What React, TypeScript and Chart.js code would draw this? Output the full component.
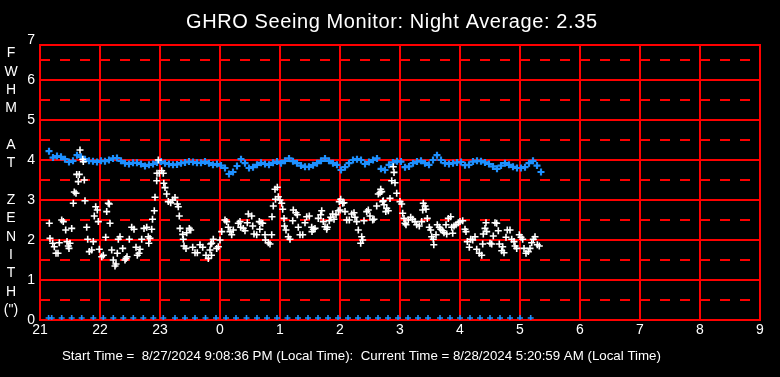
import React, { useEffect, useRef } from 'react';
import { Chart, registerables } from 'chart.js';

Chart.register(...registerables);

const FONT = '"Liberation Sans", Arial, Helvetica, sans-serif';

const titleText = 'GHRO Seeing Monitor: Night Average: 2.35';
const footerText = 'Start Time =  8/27/2024 9:08:36 PM (Local Time):  Current Time = 8/28/2024 5:20:59 AM (Local Time)';
const yAxisLetters = ['F', 'W', 'H', 'M', '', 'A', 'T', '', 'Z', 'E', 'N', 'I', 'T', 'H', '(")'];

// hour ticks (labels shown modulo 24)
const xTickHours = [21, 22, 23, 24, 25, 26, 27, 28, 29, 30, 31, 32, 33];
const yTickValues = [0, 1, 2, 3, 4, 5, 6, 7];
const solidLevels = [0, 1, 2, 3, 4, 5, 6];
const dashedLevels = [0.5, 1.5, 2.5, 3.5, 4.5, 5.5, 6.5];
const frameTopLevel = 6.875;

// FWHM seeing samples: minutes after 21:00 and value (arcsec)
const seeingMinutes = [
  9.3, 10, 12.7, 14.3, 16, 18, 19.3, 21.7, 23.3, 25.7,
  27, 28.3, 29, 30, 31.7, 33.3, 34.3, 36, 36.7, 38.3,
  39.3, 40, 42.7, 43.3, 44.3, 45, 46.7, 47.7, 49.3, 51.7,
  53.3, 54.3, 55.7, 57.3, 58.3, 59.3, 61.7, 63.3, 65.7, 66.7,
  68.3, 69.3, 70, 71.7, 73.3, 75, 76, 77.3, 78.3, 80,
  82.7, 85, 86, 87, 89.3, 91.7, 94, 96, 97.3, 99,
  100, 101.7, 104, 106.7, 108.3, 108.8, 110, 111.7, 112.5, 114.3,
  115, 116.7, 117, 118.3, 119.3, 121.7, 123.3, 123.8, 125, 126.7,
  128.3, 130.7, 132.7, 135, 137.3, 138.3, 139.3, 140, 142.7, 143.3,
  144, 146, 146.7, 149.3, 150.7, 152.7, 155, 157.3, 160, 162.7,
  166, 168.3, 170, 170.7, 171.5, 171.7, 173.3, 176.7, 178.3, 180,
  181.7, 185, 186.7, 188.3, 190, 191.7, 193.3, 198.3, 200, 200.7,
  203.3, 205, 207.3, 208.3, 211.7, 212.7, 214, 216.7, 219.3, 219.8,
  221, 222.7, 225, 225.5, 228.3, 230, 231.7, 232, 233.3, 235,
  235.5, 237.3, 238.3, 240, 241.7, 242.7, 244, 244.5, 246, 248.3,
  250, 252.7, 253.3, 256, 257.3, 258.3, 260, 262.7, 265, 266.7,
  269.3, 271.7, 272, 273.3, 275, 278.3, 280.7, 281.7, 283.3, 285,
  286.7, 287.3, 289.3, 290.7, 292.7, 294, 296, 298.3, 299.3, 300,
  300.7, 302.7, 304, 305, 306.7, 309.3, 311.7, 314, 315, 316.7,
  318.3, 320.7, 321.7, 322.7, 324, 326.7, 328.3, 330, 332.7, 334,
  336.7, 338.3, 340, 340.7, 341.7, 342.7, 343.3, 344, 345.8, 346.7,
  348.3, 350, 351.7, 353.3, 354, 355, 356.7, 360, 361.7, 362.7,
  364, 365, 366, 368.3, 370.7, 372.7, 375, 376.7, 379.3, 381.7,
  382.7, 383.3, 385, 386, 387.3, 389.3, 390.7, 391.7, 393.3, 393.8,
  396, 397.3, 399.3, 400.7, 402.7, 404, 406, 406.7, 408.3, 410.7,
  411.7, 412.7, 414, 416, 418.3, 420, 422.7, 425, 426, 427.3,
  429.3, 430.7, 432.7, 435, 436.7, 439.3, 441.7, 442.7, 443.3, 445,
  446, 446.7, 450, 451.7, 453.3, 455, 456.7, 458.3, 459.3, 461.7,
  462.7, 464, 466, 467.3, 470, 471.7, 474, 475, 476.7, 479.3,
  481, 482.7, 484, 486, 488.3, 490, 491.7, 493.3, 495, 497.3,
  499.3,
];
const seeingValues = [
  2.42, 2.04, 1.92, 1.83, 1.67, 1.67, 1.93, 2.5, 2.46, 2.25,
  1.96, 1.85, 1.79, 1.92, 2.29, 2.92, 3.2, 3.17, 3.64, 3.46,
  3.64, 4.25, 4.02, 3.96, 3.5, 2.98, 2.32, 2.02, 1.71, 1.75,
  1.96, 2.6, 2.83, 2.75, 2.46, 1.77, 1.58, 1.62, 2.07, 2.71,
  2.92, 2.9, 2.42, 1.75, 1.5, 1.35, 1.4, 1.67, 2.02, 2.08,
  1.79, 1.5, 1.54, 1.58, 2.02, 2.32, 2.27, 1.82, 1.62, 1.67,
  1.77, 2.02, 2.29, 2.32, 2.08, 1.92, 2.04, 2.27, 2.52, 2.73,
  3.07, 3.48, 3.67, 4.0, 3.67, 3.73, 3.67, 3.42, 3.31, 3.15,
  2.96, 2.93, 3.0, 3.06, 2.9, 2.83, 2.6, 2.29, 2.14, 2.02,
  1.85, 1.79, 2.18, 2.29, 2.25, 1.82, 1.68, 1.68, 1.88, 1.82,
  1.62, 1.54, 1.75, 1.9, 1.62, 1.92, 2.02, 1.79, 1.83, 2.0,
  2.21, 2.5, 2.46, 2.32, 2.21, 2.13, 2.25, 2.42, 2.46, 2.32,
  2.29, 2.23, 2.43, 2.65, 2.6, 2.35, 2.15, 2.13, 2.46, 2.27,
  2.43, 2.42, 2.13, 2.0, 1.93, 1.9, 2.13, 2.58, 2.85, 3.27,
  3.02, 3.32, 3.08, 3.0, 2.92, 2.77, 2.54, 2.35, 2.25, 2.08,
  2.02, 2.48, 2.75, 2.68, 2.63, 2.32, 2.13, 2.13, 2.43, 2.58,
  2.6, 2.32, 2.21, 2.27, 2.29, 2.54, 2.63, 2.73, 2.46, 2.33,
  2.27, 2.32, 2.48, 2.57, 2.65, 2.52, 2.63, 2.73, 2.96, 2.75,
  3.02, 2.92, 2.93, 2.71, 2.5, 2.5, 2.65, 2.68, 2.57, 2.46,
  2.25, 1.92, 2.08, 2.0, 2.48, 2.71, 2.75, 2.6, 2.5, 2.52,
  2.85, 3.15, 3.18, 3.27, 3.21, 2.96, 2.98, 2.88, 2.71, 2.79,
  2.73, 3.04, 3.48, 3.83, 3.69, 3.43, 3.17, 2.96, 2.9, 2.67,
  2.54, 2.42, 2.38, 2.5, 2.57, 2.52, 2.46, 2.38, 2.35, 2.46,
  2.75, 2.92, 2.85, 2.77, 2.54, 2.32, 2.25, 2.08, 2.02, 1.88,
  2.13, 2.38, 2.32, 2.27, 2.23, 2.18, 2.38, 2.15, 2.54, 2.58,
  2.32, 2.17, 2.35, 2.38, 2.43, 2.46, 2.48, 2.27, 2.21, 1.96,
  1.82, 2.02, 2.0, 2.08, 1.77, 1.67, 1.62, 1.9, 2.15, 2.29,
  2.43, 2.21, 1.92, 1.9, 2.1, 2.43, 2.42, 2.23, 1.9, 1.73,
  1.83, 1.68, 2.07, 2.25, 2.25, 2.02, 1.96, 1.85, 1.79, 2.13,
  2.07, 2.02, 1.79, 1.67, 1.71, 1.79, 1.93, 2.02, 2.08, 1.88,
  1.85,
];

// blue trace near 4: sampled every 4 minutes starting 21:09
const traceStartMinute = 9;
const traceStepMinutes = 4;
const traceValues = [
  4.22, 4.06, 4.10, 4.08, 4.02, 3.95, 3.98, 4.12, 4.08, 4.02,
  3.98, 3.97, 3.95, 3.98, 3.97, 4.00, 4.04, 4.05, 3.98, 3.92,
  3.90, 3.93, 3.93, 3.90, 3.85, 3.88, 3.90, 3.94, 3.96, 3.92,
  3.90, 3.88, 3.89, 3.92, 3.94, 3.96, 3.95, 3.93, 3.93, 3.96,
  3.92, 3.88, 3.90, 3.86, 3.80, 3.65, 3.70, 3.85, 4.02, 3.92,
  3.80, 3.82, 3.88, 3.93, 3.90, 3.88, 3.93, 3.96, 3.92, 3.98,
  4.04, 3.97, 3.92, 3.86, 3.83, 3.83, 3.87, 3.92, 3.98, 4.04,
  3.98, 3.92, 3.88, 3.75, 3.82, 3.92, 4.00, 4.02, 4.00, 3.90,
  3.95, 4.00, 4.04, 3.78, 3.75, 3.88, 3.94, 3.97, 3.96, 3.82,
  3.84, 3.92, 3.96, 3.98, 3.92, 3.88, 4.00, 4.12, 4.00, 3.92,
  3.90, 3.92, 3.94, 3.95, 3.87, 3.88, 3.96, 3.98, 3.97, 3.94,
  3.90, 3.84, 3.78, 3.86, 3.92, 3.88, 3.83, 3.80, 3.80, 3.82,
  3.92, 3.98, 3.86, 3.70,
];

// blue markers along the bottom
const markerMinutes = [
  8.6, 11.7, 21.7, 31.7, 41.7, 53.3, 63.3, 73.3, 83.3, 93.3,
  103.3, 113.3, 123.3, 135, 145, 155, 165.5, 176, 186, 196,
  206.5, 217, 227, 237, 247.5, 258, 268, 278, 288, 298,
  308, 318, 328, 338, 348, 358, 368, 378, 388, 400,
  410, 420, 430, 440, 450, 460, 470, 480, 490.7,
];
const markerValue = 0.05;

const baseHour = 21;
const toHour = (m: number) => baseHour + m / 60;

const WHITE = '#ffffff';
const BLUE = '#1e90ff';
const RED = '#ff0000';

const ghroPlugin = {
  id: 'ghroDecor',
  beforeDatasetsDraw(chart: any) {
    const { ctx, scales } = chart;
    const x = scales.x;
    const y = scales.y;
    const left = x.getPixelForValue(xTickHours[0]);
    const right = x.getPixelForValue(xTickHours[xTickHours.length - 1]);
    const top = y.getPixelForValue(frameTopLevel);
    const bottom = y.getPixelForValue(0);
    ctx.save();
    ctx.strokeStyle = RED;
    ctx.lineWidth = 2;
    ctx.setLineDash([10, 10]);
    for (const v of dashedLevels) {
      const py = Math.round(y.getPixelForValue(v));
      ctx.beginPath();
      ctx.moveTo(left, py);
      ctx.lineTo(right, py);
      ctx.stroke();
    }
    ctx.setLineDash([]);
    for (const v of solidLevels) {
      const py = Math.round(y.getPixelForValue(v));
      ctx.beginPath();
      ctx.moveTo(left, py);
      ctx.lineTo(right, py);
      ctx.stroke();
    }
    ctx.beginPath();
    ctx.moveTo(left - 1, Math.round(top));
    ctx.lineTo(right + 1, Math.round(top));
    ctx.stroke();
    for (const h of xTickHours) {
      const px = Math.round(x.getPixelForValue(h));
      ctx.beginPath();
      ctx.moveTo(px, Math.round(top));
      ctx.lineTo(px, bottom + 1);
      ctx.stroke();
    }
    ctx.restore();
  },
  afterDraw(chart: any) {
    const { ctx } = chart;
    ctx.save();
    ctx.fillStyle = WHITE;
    ctx.textAlign = 'left';
    ctx.textBaseline = 'alphabetic';
    ctx.font = `20px ${FONT}`;
    ctx.letterSpacing = '0.6px';
    ctx.fillText(titleText, 186, 28);
    ctx.letterSpacing = '0px';
    ctx.textAlign = 'center';
    ctx.font = `14px ${FONT}`;
    yAxisLetters.forEach((ch, i) => {
      if (ch) ctx.fillText(ch, 11, 57.3 + i * 18.33);
    });
    ctx.textAlign = 'left';
    ctx.font = `13.3px ${FONT}`;
    ctx.fillText(footerText, 62, 360);
    ctx.restore();
  },
};

export default function App() {
  const canvasRef = useRef<HTMLCanvasElement>(null);

  useEffect(() => {
    document.body.style.margin = '0';
    document.body.style.background = '#000';
    const canvas = canvasRef.current;
    if (!canvas) return;

    const seeingData = seeingMinutes.map((m, i) => ({ x: toHour(m), y: seeingValues[i] }));
    const traceData = traceValues.map((v, i) => ({ x: toHour(traceStartMinute + i * traceStepMinutes), y: v }));
    const markerData = markerMinutes.map((m) => ({ x: toHour(m), y: markerValue }));

    const chart = new Chart(canvas, {
      type: 'scatter',
      data: {
        datasets: [
          {
            label: 'FWHM',
            data: seeingData,
            pointStyle: 'cross',
            pointRadius: 3.5,
            borderColor: WHITE,
            backgroundColor: WHITE,
            borderWidth: 1.6,
          },
          {
            label: 'Trace',
            data: traceData,
            pointStyle: 'cross',
            pointRadius: 3.5,
            borderColor: BLUE,
            backgroundColor: BLUE,
            borderWidth: 2.2,
          },
          {
            label: 'Markers',
            data: markerData,
            pointStyle: 'cross',
            pointRadius: 3,
            borderColor: BLUE,
            backgroundColor: BLUE,
            borderWidth: 1.6,
          },
        ],
      },
      options: {
        animation: false,
        responsive: false,
        devicePixelRatio: 1,
        events: [],
        layout: { padding: { left: 0, right: 20, top: 40, bottom: 37 } },
        plugins: {
          legend: { display: false },
          tooltip: { enabled: false },
          title: { display: false },
        },
        scales: {
          x: {
            type: 'linear',
            min: xTickHours[0],
            max: xTickHours[xTickHours.length - 1],
            afterBuildTicks: (scale: any) => {
              scale.ticks = xTickHours.map((v) => ({ value: v }));
            },
            afterFit: (scale: any) => {
              scale.height = 20;
            },
            grid: { display: false, drawTicks: false },
            border: { display: false },
            ticks: {
              color: WHITE,
              font: { family: FONT, size: 14 },
              padding: 2,
              maxRotation: 0,
              autoSkip: false,
              callback: (v: any) => String(Number(v) % 24),
            },
          },
          y: {
            type: 'linear',
            min: 0,
            max: 7,
            afterBuildTicks: (scale: any) => {
              scale.ticks = yTickValues.map((v) => ({ value: v }));
            },
            afterFit: (scale: any) => {
              scale.width = 40;
            },
            grid: { display: false, drawTicks: false },
            border: { display: false },
            ticks: {
              color: WHITE,
              font: { family: FONT, size: 14 },
              padding: 5,
              autoSkip: false,
              callback: (v: any) => String(v),
            },
          },
        },
      },
      plugins: [ghroPlugin],
    } as any);

    return () => chart.destroy();
  }, []);

  return (
    <div style={{ width: 780, height: 377, background: '#000', overflow: 'hidden' }}>
      <canvas ref={canvasRef} width={780} height={377} style={{ display: 'block', width: 780, height: 377 }} />
    </div>
  );
}
